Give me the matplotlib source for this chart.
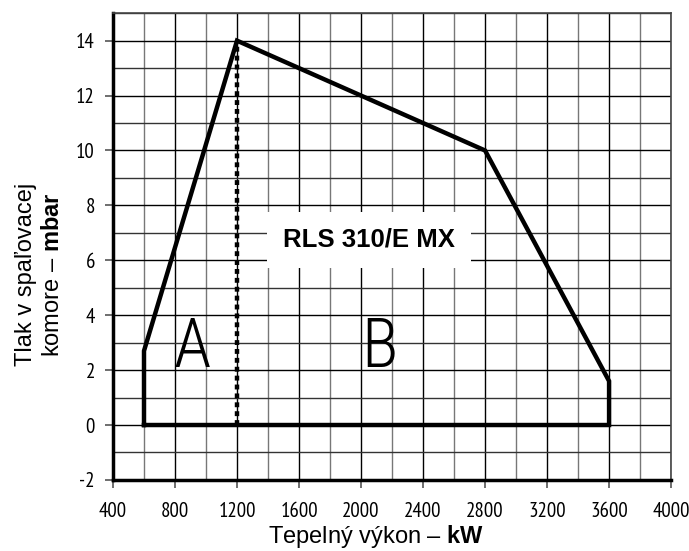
import matplotlib
matplotlib.use("Agg")
import matplotlib.pyplot as plt
from matplotlib import font_manager as fm

_avail = set(f.name for f in fm.fontManager.ttflist)

def pick(cands, default="DejaVu Sans"):
    for c in cands:
        if c in _avail:
            return c
    return default

narrow = pick(["Liberation Sans Narrow", "Arial Narrow", "PT Sans Narrow", "Roboto Condensed",
               "Archivo Narrow", "Pragati Narrow"], "Liberation Sans")
thin = pick(["Roboto Condensed", "Open Sans Condensed", "Pathway Gothic One", "Archivo Narrow",
             "Liberation Sans Narrow"], narrow)

plt.rcParams["mathtext.fontset"] = "custom"
plt.rcParams["mathtext.rm"] = "Liberation Sans"
plt.rcParams["mathtext.bf"] = "Liberation Sans:bold"

# Data
env_x = [600, 600, 1200, 2800, 3600, 3600, 600]
env_y = [0, 2.7, 14, 10, 1.6, 0, 0]
split_x = [1200, 1200]
split_y = [0, 14]
xticks = list(range(400, 4001, 400))
yticks = list(range(-2, 15, 2))

fig = plt.figure(figsize=(6.89, 5.51), dpi=100)
ax = fig.add_axes([0.164, 0.129, 0.81, 0.847])
ax.set_xlim(400, 4000)
ax.set_ylim(-2, 15)

for x in range(400, 4001, 200):
    c = "black" if x % 400 == 0 else "#777777"
    ax.axvline(x, color=c, lw=1.0, zorder=1)
for y in range(-2, 16):
    ax.axhline(y, color="black" if y % 2 == 0 else "#333333", lw=1.0, zorder=1)

ax.plot(env_x, env_y, color="black", lw=3.2, solid_joinstyle="miter", zorder=3)
ax.plot(split_x, split_y, color="black", lw=3.2, linestyle=(0, (1.1, 0.9)), zorder=3)

ax.text(2052, 6.74, "RLS 310/E MX", fontsize=18.5, fontweight="bold", family="Liberation Sans",
        ha="center", va="center", zorder=4,
        bbox=dict(boxstyle="square,pad=0.62", fc="white", ec="none"))
ax.text(910, 2.11, "A", fontsize=49, family=thin, fontweight="light", ha="center", va="baseline", zorder=4)
ax.text(2122, 2.11, "B", fontsize=49, family=thin, fontweight="light", ha="center", va="baseline", zorder=4)

ax.set_xticks(xticks)
ax.set_yticks(yticks)
ax.set_xticklabels([str(v) for v in xticks], family=narrow, fontsize=15)
ax.set_yticklabels([str(v) for v in yticks], family=narrow, fontsize=15)
ax.tick_params(axis="both", length=6, width=1.2, color="#555555")
ax.tick_params(axis="x", pad=10)
ax.tick_params(axis="y", pad=7)

for s in ["top", "right"]:
    ax.spines[s].set_linewidth(1.2)
    ax.spines[s].set_color("#444444")
ax.spines["left"].set_linewidth(2.5)
ax.spines["bottom"].set_linewidth(2.5)

ax.set_xlabel("Tepelný výkon – $\\mathbf{kW}$", fontsize=17, family="Liberation Sans")
ax.xaxis.label.set_va("center")
ax.xaxis.set_label_coords(0.471, -0.122)
ax.set_ylabel("Tlak v spaľovacej\nkomore – $\\mathbf{mbar}$", fontsize=17, family="Liberation Sans",
              linespacing=1.3)
ax.yaxis.label.set_va("center")
ax.yaxis.set_label_coords(-0.132, 0.44)

fig.savefig("out.png", dpi=100)
